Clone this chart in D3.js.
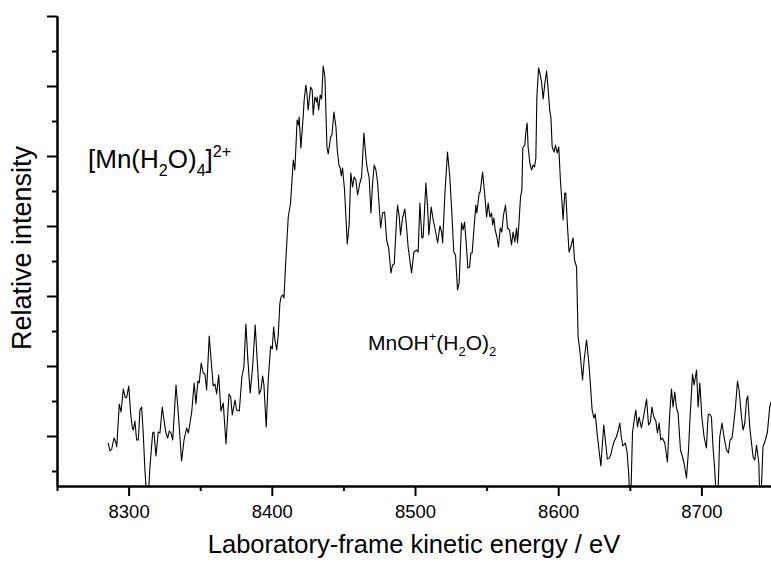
<!DOCTYPE html>
<html>
<head>
<meta charset="utf-8">
<script src="https://cdn.jsdelivr.net/npm/d3@7"></script>
<style>
	body { margin: 0; background: #fff; }
	svg { display: block; }
	text { font-family: "Liberation Sans", Arial, sans-serif; fill: #000; }
	.axis .domain, .axis .tick line { stroke: #000; stroke-width: 2; }
</style>
</head>
<body>
<div id="chart"></div>
<script>

///////////////////////////////////////////////////////////////////////////
//////////////////////////////// Data /////////////////////////////////////
///////////////////////////////////////////////////////////////////////////

var energyDomain = [8250, 8750];
var intensityDomain = [0, 470];

var xMajorTicks = [8300, 8400, 8500, 8600, 8700];
var xMinorTicks = [8250, 8350, 8450, 8550, 8650, 8750];
var yMajorTicks = [50, 120, 190, 260, 330, 400, 470];
var yMinorTicks = [15, 85, 155, 225, 295, 365, 435];

//[kinetic energy (eV), relative intensity (arb.)]
var spectrum = [
	[8285.8,43],[8287.0,35],[8288.2,37],[8289.8,48],[8291.0,44],[8291.7,39],[8293.5,82],[8294.7,74],
	[8296.3,97],[8297.7,88],[8298.7,89],[8300.1,100],[8301.4,73],[8302.6,58],[8303.3,56],[8304.4,65],
	[8305.6,46],[8306.8,46],[8307.9,76],[8309.1,79],[8310.2,53],[8311.4,16],[8313.2,-25],[8314.9,19],
	[8316.8,53],[8317.7,54],[8319.1,30],[8320.7,54],[8321.9,53],[8323.5,79],[8324.7,66],[8326.1,53],
	[8327.3,48],[8328.4,55],[8329.6,53],[8330.8,46],[8333.1,101],[8334.7,73],[8337.0,25],[8338.7,46],
	[8340.5,58],[8341.7,53],[8344.0,73],[8345.8,103],[8347.0,82],[8348.4,105],[8349.3,103],[8350.7,123],
	[8352.1,113],[8353.3,112],[8354.5,96],[8356.3,150],[8358.0,119],[8359.1,100],[8360.3,102],[8361.5,92],
	[8362.9,111],[8364.5,75],[8366.1,83],[8368.0,42],[8370.1,92],[8371.3,89],[8372.4,71],[8374.3,86],
	[8375.4,76],[8377.3,75],[8379.1,109],[8380.5,119],[8381.9,162],[8383.3,126],[8384.9,93],[8386.6,119],
	[8388.4,161],[8389.8,126],[8391.2,92],[8392.4,96],[8393.6,110],[8394.5,101],[8396.1,59],[8397.5,106],
	[8399.2,140],[8400.3,137],[8401.3,159],[8402.2,146],[8403.4,136],[8404.5,151],[8405.6,182],[8406.4,189],
	[8407.6,191],[8408.5,188],[8409.9,229],[8411.5,269],[8413.1,283],[8415.0,326],[8416.1,316],[8417.7,366],
	[8418.7,361],[8419.1,369],[8420.3,338],[8421.9,369],[8422.6,386],[8423.8,401],[8424.5,393],[8425.4,376],
	[8427.1,399],[8428.2,396],[8428.9,371],[8430.1,389],[8431.3,384],[8431.7,389],[8432.7,376],[8433.8,391],
	[8434.8,387],[8435.9,420],[8437.1,409],[8438.5,339],[8439.4,332],[8441.1,349],[8442.0,351],[8443.4,374],
	[8444.8,359],[8445.7,336],[8446.9,321],[8447.8,318],[8448.5,310],[8449.4,318],[8450.8,296],[8452.7,242],
	[8454.0,261],[8455.2,313],[8456.4,299],[8457.5,309],[8458.7,306],[8459.9,291],[8461.5,303],[8462.7,309],
	[8464.3,353],[8465.7,329],[8466.6,318],[8468.0,308],[8469.2,273],[8470.4,303],[8471.5,321],[8472.7,316],
	[8473.9,303],[8476.0,258],[8477.4,273],[8478.8,274],[8480.2,246],[8481.6,238],[8483.2,213],[8484.3,221],
	[8485.5,222],[8487.1,266],[8487.8,281],[8489.0,269],[8489.9,251],[8491.3,268],[8492.9,277],[8494.1,259],
	[8495.2,239],[8497.6,213],[8499.2,234],[8501.1,236],[8502.2,234],[8503.4,283],[8504.8,248],[8505.7,249],
	[8507.6,303],[8508.8,279],[8509.7,251],[8511.3,279],[8512.7,266],[8513.9,258],[8515.8,243],[8517.4,260],
	[8518.6,254],[8519.3,243],[8520.9,293],[8522.7,334],[8524.3,309],[8525.5,279],[8527.1,234],[8528.3,231],
	[8529.7,196],[8530.8,203],[8532.5,263],[8533.6,256],[8534.6,264],[8535.7,244],[8536.9,218],[8538.1,219],
	[8539.0,233],[8539.9,233],[8541.1,256],[8542.5,281],[8543.2,273],[8544.8,293],[8545.5,294],[8547.2,314],
	[8548.6,293],[8550.0,269],[8551.1,283],[8552.3,269],[8553.5,273],[8554.2,261],[8555.1,268],[8556.0,256],
	[8557.2,249],[8558.3,239],[8559.5,258],[8560.6,254],[8561.8,271],[8563.2,281],[8564.6,258],[8566.0,256],
	[8567.4,241],[8568.5,254],[8569.7,244],[8570.9,258],[8571.6,243],[8572.5,261],[8573.7,289],[8574.6,296],
	[8575.3,338],[8576.7,341],[8577.4,354],[8578.3,363],[8579.0,339],[8580.2,323],[8581.4,316],[8582.5,321],
	[8583.5,319],[8584.4,328],[8585.1,389],[8586.3,418],[8587.2,413],[8588.4,404],[8589.5,387],[8590.7,403],
	[8591.9,415],[8593.0,396],[8594.2,374],[8594.9,369],[8595.8,339],[8597.2,334],[8598.1,341],[8599.3,333],
	[8600.4,339],[8601.6,304],[8602.7,283],[8603.4,266],[8604.6,293],[8605.3,293],[8606.5,259],[8607.6,234],
	[8608.8,239],[8610.4,248],[8611.4,226],[8612.8,219],[8613.9,149],[8615.1,136],[8617.0,106],[8618.1,126],
	[8619.8,146],[8621.4,123],[8622.6,99],[8623.7,76],[8624.9,68],[8625.9,72],[8627.2,52],[8629.8,20],
	[8631.8,61],[8632.9,46],[8634.3,27],[8635.6,28],[8636.7,31],[8637.9,39],[8639.2,45],[8640.6,49],
	[8642.0,56],[8643.0,63],[8644.1,49],[8645.1,40],[8646.9,43],[8648.1,34],[8649.3,11],[8650.4,-30],
	[8651.9,54],[8653.0,65],[8654.2,76],[8655.4,59],[8656.5,69],[8658.1,58],[8659.7,70],[8661.7,87],
	[8663.1,61],[8664.4,64],[8665.4,79],[8666.8,69],[8668.2,65],[8669.3,53],[8670.5,63],[8671.6,46],
	[8672.8,48],[8674.4,43],[8676.3,24],[8677.9,73],[8679.1,97],[8680.2,79],[8681.4,94],[8682.6,78],
	[8683.7,73],[8685.4,36],[8686.8,29],[8687.9,23],[8689.6,8],[8691.0,36],[8692.1,69],[8693.8,112],
	[8694.9,101],[8696.6,116],[8697.7,79],[8698.9,103],[8700.3,69],[8701.9,49],[8703.5,38],[8704.7,71],
	[8705.8,72],[8707.0,69],[8708.1,39],[8709.3,16],[8711.1,-30],[8712.8,49],[8714.4,63],[8715.8,49],
	[8717.5,36],[8718.9,33],[8720.0,46],[8721.4,48],[8722.6,63],[8723.8,79],[8725.2,105],[8726.3,96],
	[8728.0,69],[8729.1,56],[8730.3,63],[8731.5,86],[8732.4,90],[8733.8,58],[8735.0,43],[8736.1,29],
	[8737.3,26],[8738.5,41],[8740.1,23],[8741.1,-30],[8743.0,39],[8744.7,46],[8746.1,54],[8747.7,79],
	[8749.1,86]
];

//Species labels: [text, mode] pieces
var labelParent = [["[Mn(H", ""], ["2", "sub"], ["O)", ""], ["4", "sub"], ["]", ""], ["2+", "sup"]];
var labelFragment = [["MnOH", ""], ["+", "sup"], ["(H", ""], ["2", "sub"], ["O)", ""], ["2", "sub"]];

///////////////////////////////////////////////////////////////////////////
//////////////////// Set up and initiate svg containers ///////////////////
///////////////////////////////////////////////////////////////////////////

var margin = { top: 16, right: 0, bottom: 77, left: 57 };
var totalWidth = 771, totalHeight = 563;
var width = 716;   //axis runs to 8750, beyond the cropped right edge
var height = totalHeight - margin.top - margin.bottom;

var svgRoot = d3.select("#chart").append("svg")
	.attr("width", totalWidth)
	.attr("height", totalHeight);

var svg = svgRoot.append("g")
	.attr("transform", "translate(" + margin.left + "," + margin.top + ")");

var x = d3.scaleLinear().domain(energyDomain).range([0, width]);
var y = d3.scaleLinear().domain(intensityDomain).range([height, 0]);

svg.append("defs").append("clipPath")
	.attr("id", "plot-clip")
	.append("rect")
	.attr("x", 0).attr("y", 0)
	.attr("width", width).attr("height", height);

///////////////////////////////////////////////////////////////////////////
//////////////////////////////// Spectrum /////////////////////////////////
///////////////////////////////////////////////////////////////////////////

var line = d3.line()
	.x(function(d) { return x(d[0]); })
	.y(function(d) { return y(d[1]); });

svg.append("path")
	.datum(spectrum)
	.attr("clip-path", "url(#plot-clip)")
	.attr("fill", "none")
	.attr("stroke", "#000")
	.attr("stroke-width", 1.1)
	.attr("stroke-linejoin", "round")
	.attr("d", line);

///////////////////////////////////////////////////////////////////////////
///////////////////////////////// Axes ////////////////////////////////////
///////////////////////////////////////////////////////////////////////////

var fontFam = "Liberation Sans, Arial, sans-serif";

//minor x ticks
svg.append("g")
	.attr("class", "axis")
	.attr("transform", "translate(0," + height + ")")
	.call(d3.axisBottom(x).tickValues(xMinorTicks).tickSize(5).tickSizeOuter(0).tickFormat(""));

//major x ticks + labels
svg.append("g")
	.attr("class", "axis")
	.attr("transform", "translate(0," + height + ")")
	.call(d3.axisBottom(x).tickValues(xMajorTicks).tickSize(10).tickSizeOuter(0).tickPadding(9).tickFormat(d3.format("d")))
	.attr("font-size", 18.5)
	.attr("font-family", fontFam);

svg.append("g")
	.attr("class", "axis")
	.call(d3.axisLeft(y).tickValues(yMinorTicks).tickSize(5).tickSizeOuter(0).tickFormat(""));

svg.append("g")
	.attr("class", "axis")
	.call(d3.axisLeft(y).tickValues(yMajorTicks).tickSize(10).tickSizeOuter(0).tickFormat(""));

//Axis titles
svgRoot.append("text")
	.attr("x", 414)
	.attr("y", 553)
	.attr("text-anchor", "middle")
	.style("font-size", "25.5px")
	.text("Laboratory-frame kinetic energy / eV");

svgRoot.append("text")
	.attr("transform", "translate(31,248) rotate(-90)")
	.attr("text-anchor", "middle")
	.style("font-size", "27px")
	.text("Relative intensity");

///////////////////////////////////////////////////////////////////////////
///////////////////////////// Species labels //////////////////////////////
///////////////////////////////////////////////////////////////////////////

function richLabel(parts, px, py, size) {
	var t = svgRoot.append("text")
		.attr("x", px)
		.attr("y", py)
		.style("font-size", size + "px");
	var offset = 0;
	parts.forEach(function(p) {
		var target = p[1] === "sub" ? size * 0.3 : (p[1] === "sup" ? -size * 0.42 : 0);
		t.append("tspan")
			.attr("dy", target - offset)
			.style("font-size", (p[1] ? size * 0.62 : size) + "px")
			.text(p[0]);
		offset = target;
	});
}

richLabel(labelParent, 88, 168, 26);
richLabel(labelFragment, 368, 350, 21);

</script>
</body>
</html>
